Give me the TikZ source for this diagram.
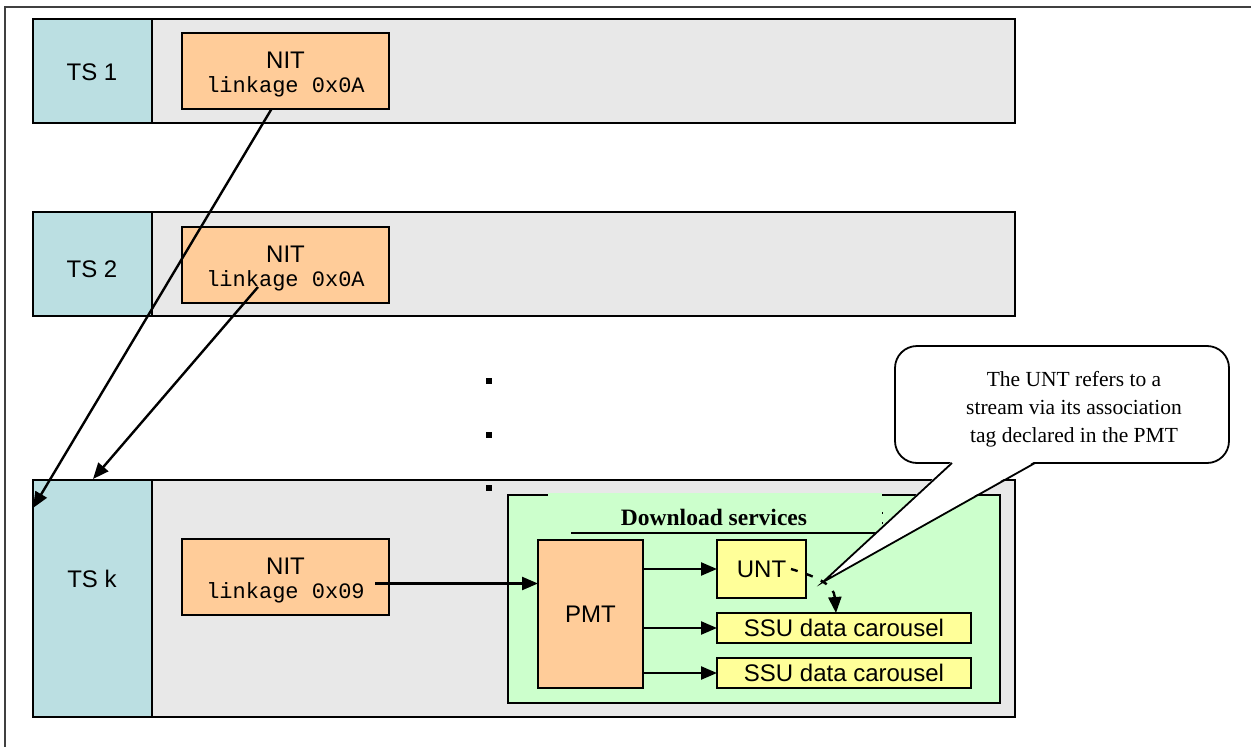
\documentclass[tikz,border=0pt]{standalone}
\usepackage{fontspec}
\setmainfont{Liberation Serif}
\setsansfont{Liberation Sans}
\setmonofont{Liberation Mono}
\usetikzlibrary{arrows.meta,calc}
\definecolor{tsblue}{HTML}{BBDFE2}
\definecolor{rowgray}{HTML}{E8E8E8}
\definecolor{nitorange}{HTML}{FFCC99}
\definecolor{dlgreen}{HTML}{CCFFCC}
\definecolor{ssuyellow}{HTML}{FFFF99}
\begin{document}
\begin{tikzpicture}[x=1pt,y=-1pt,
  box/.style={draw=black, line width=2.2pt, inner sep=0pt, outer sep=0pt, anchor=north west},
  rowbox/.style={box, fill=rowgray, line width=2.4pt},
  tsbox/.style={box, fill=tsblue, line width=2.4pt},
  nitbox/.style={box, fill=nitorange, line width=2pt, minimum width=207pt, minimum height=76pt},
  ylwbox/.style={box, fill=ssuyellow, line width=2pt},
  sanslbl/.style={font=\sffamily\fontsize{24}{27}\selectfont, inner sep=0pt},
  monolbl/.style={font=\ttfamily\fontsize{22}{26}\selectfont, inner sep=0pt},
  arr/.style={line width=2.4pt, -{Triangle[length=16pt,width=13pt]}},
]
\useasboundingbox (0,0) rectangle (1251,747);
\fill[white] (0,0) rectangle (1251,747);
% outer frame
\draw[line width=2.4pt, black!75] (5,760) -- (5,7) -- (1260,7);

% rows
\node[rowbox, minimum width=982pt, minimum height=104pt] (row1) at (33,19) {};
\node[tsbox, minimum width=119pt, minimum height=104pt] (ts1) at (33,19) {};
\node[rowbox, minimum width=982pt, minimum height=104pt] (row2) at (33,212) {};
\node[tsbox, minimum width=119pt, minimum height=104pt] (ts2) at (33,212) {};
\node[rowbox, minimum width=982pt, minimum height=237pt] (rowk) at (33,480) {};
\node[tsbox, minimum width=119pt, minimum height=237pt] (tsk) at (33,480) {};

\node[sanslbl] (ts1l) at (92,72) {TS 1};
\node[sanslbl] (ts2l) at (92,269) {TS 2};
\node[sanslbl] (tskl) at (92,579) {TS k};

% NIT boxes
\node[nitbox] (nit1) at (182,33) {};
\node[sanslbl, anchor=base] (nit1a) at ([yshift=-35pt]nit1.north) {NIT};
\node[monolbl, anchor=base] (nit1b) at ([yshift=-59pt]nit1.north) {linkage 0x0A};
\node[nitbox] (nit2) at (182,227) {};
\node[sanslbl, anchor=base] (nit2a) at ([yshift=-35pt]nit2.north) {NIT};
\node[monolbl, anchor=base] (nit2b) at ([yshift=-59pt]nit2.north) {linkage 0x0A};
\node[nitbox] (nitk) at (182,539) {};
\node[sanslbl, anchor=base] (nitka) at ([yshift=-35pt]nitk.north) {NIT};
\node[monolbl, anchor=base] (nitkb) at ([yshift=-59pt]nitk.north) {linkage 0x09};

% dots
\fill (485.5,377.5) rectangle +(6.5,6.5);
\fill (485.5,431.5) rectangle +(6.5,6.5);
\fill (485.5,484.5) rectangle +(6.5,6.5);

% download services
\node[box, fill=dlgreen, line width=2.2pt, minimum width=492pt, minimum height=208pt] (dl) at (508,495) {};
\fill[dlgreen] (548,493) rectangle (882,532);
\draw[line width=2pt] (571,533) -- (882,533);
\fill (881.5,512) rectangle +(1.8,1.8);
\fill (881.5,522) rectangle +(1.8,1.8);
\node[font=\bfseries\fontsize{23.5}{27}\selectfont, anchor=base, inner sep=0pt] (dlt) at (714,525) {Download services};

\node[box, fill=nitorange, line width=2pt, minimum width=105pt, minimum height=148pt] (pmt) at (538,540) {};
\node[sanslbl] (pmtl) at (pmt.center) {PMT};
\node[ylwbox, minimum width=89pt, minimum height=58pt] (unt) at (717,540) {};
\node[sanslbl] (untl) at (unt.center) {UNT};
\node[ylwbox, minimum width=254pt, minimum height=30pt] (ssu1) at (717,613) {};
\node[sanslbl] (ssu1l) at (ssu1.center) {SSU data carousel};
\node[ylwbox, minimum width=254pt, minimum height=30pt] (ssu2) at (717,658) {};
\node[sanslbl] (ssu2l) at (ssu2.center) {SSU data carousel};

% arrows inside download services
\draw[arr] (pmt.east |- unt.west) -- (unt.west);
\draw[arr] (pmt.east |- ssu1.west) -- (ssu1.west);
\draw[arr] (pmt.east |- ssu2.west) -- (ssu2.west);
\coordinate (nitout) at ([xshift=-14pt,yshift=-6.5pt]nitk.east);
\draw[arr] (nitout) -- (nitout -| pmt.west);

% dashed reference from UNT
\coordinate (dstart) at (791,569);
\coordinate (dend) at (ssu1.north -| 836,0);
\draw[arr, dash pattern=on 7pt off 9pt] (dstart) .. controls (818,577) and (834,585) .. (dend);

% linkage arrows
\draw[arr] ([xshift=-14pt]nit1.south) -- ([yshift=-28pt]tsk.north west);
\draw[arr] ([xshift=-27.5pt,yshift=16pt]nit2.south) -- ([xshift=60pt,yshift=1pt]tsk.north west);

% callout
\node[box, fill=white, line width=1.8pt, rounded corners=22pt, minimum width=334pt, minimum height=117pt] (co) at (895,346) {};
\coordinate (tip) at (823,582);
\coordinate (bl) at ([xshift=57pt]co.south west);
\coordinate (br) at ([xshift=140pt]co.south west);
\fill[white] ([yshift=1.8pt]bl) -- (tip) -- ([yshift=1.8pt]br) -- cycle;
\draw[line width=1.8pt, line join=miter] (bl) -- (tip) -- (br);
\node[font=\fontsize{21.5}{28}\selectfont, align=center, inner sep=0pt] (cot) at ([xshift=12pt,yshift=-5pt]co.center) {The UNT refers to a\\stream via its association\\tag declared in the PMT};
\end{tikzpicture}
\end{document}
